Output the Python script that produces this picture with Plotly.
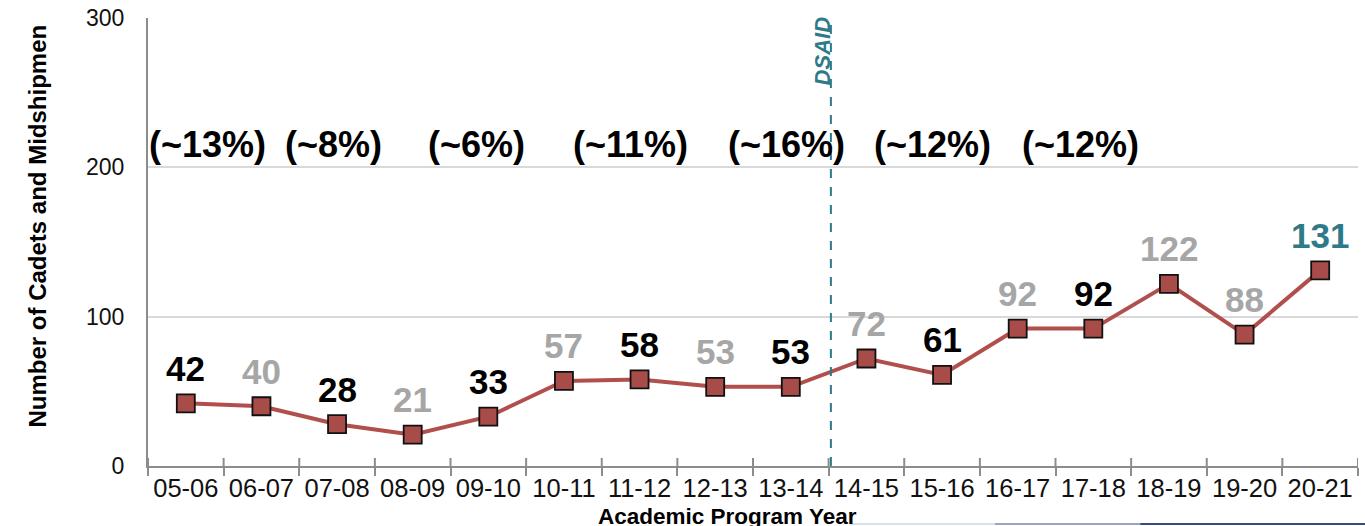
import plotly.graph_objects as go

years = ["05-06", "06-07", "07-08", "08-09", "09-10", "10-11", "11-12", "12-13",
         "13-14", "14-15", "15-16", "16-17", "17-18", "18-19", "19-20", "20-21"]
counts = [42, 40, 28, 21, 33, 57, 58, 53, 53, 72, 61, 92, 92, 122, 88, 131]
label_kind = ["dark", "light", "dark", "light", "dark", "light", "dark", "light",
              "dark", "light", "dark", "light", "dark", "light", "light", "accent"]
pct_labels = ["(~13%)", "(~8%)", "(~6%)", "(~11%)", "(~16%)", "(~12%)", "(~12%)"]
pct_x = [0.29, 1.95, 3.84, 5.88, 7.94, 9.88, 11.83]
pct_y = 215.5
dsaid_x = 8.53
y_ticks = [0, 100, 200, 300]

kind_color = {"dark": "#000000", "light": "#A6A6A6", "accent": "#2F7A88"}
TEAL = "#2F7A88"
AXIS = "#8C8C8C"
FONT = "Liberation Sans, Arial, sans-serif"

idx = list(range(len(years)))

fig = go.Figure()
fig.add_trace(go.Scatter(
    x=idx, y=counts, mode="lines+markers",
    line=dict(color="#B04F4B", width=4),
    marker=dict(symbol="square", size=18, color="#A84C49",
                line=dict(color="#111111", width=1.8)),
    hoverinfo="skip", showlegend=False,
))

annotations = []
for i, v, k in zip(idx, counts, label_kind):
    annotations.append(dict(
        x=i, y=v, xref="x", yref="y", text=f"<b>{v}</b>", showarrow=False,
        yshift=35, font=dict(family=FONT, size=35, color=kind_color[k]),
    ))
for t, px in zip(pct_labels, pct_x):
    annotations.append(dict(
        x=px, y=pct_y, xref="x", yref="y", text=f"<b>{t}</b>", showarrow=False,
        font=dict(family=FONT, size=36, color="#000000"),
    ))
annotations.append(dict(
    x=dsaid_x, y=300, xref="x", yref="y", text="<b><i>DSAID</i></b>", showarrow=False,
    textangle=-90, xanchor="center", yanchor="top", xshift=-8, yshift=4,
    font=dict(family=FONT, size=22, color=TEAL),
))
annotations.append(dict(
    x=-0.104, y=0.536, xref="paper", yref="paper",
    text="<b>Number of Cadets and Midshipmen</b>", showarrow=False, textangle=-90,
    font=dict(family=FONT, size=24, color="#000000"),
))
annotations.append(dict(
    x=0.479, y=0, xref="paper", yref="paper", yanchor="top", yshift=-37,
    text="<b>Academic Program Year</b>", showarrow=False, borderpad=0,
    font=dict(family=FONT, size=22.5, color="#000000"),
))

shapes = [
    dict(type="line", xref="x", yref="y", x0=dsaid_x, x1=dsaid_x, y0=0, y1=300,
         line=dict(color=TEAL, width=2, dash="dash"), layer="above"),
]
# upward half of the crossing tick marks at category boundaries
for b in range(len(years) + 1):
    shapes.append(dict(type="line", xref="x", yref="y", ysizemode="pixel", yanchor=0,
                       x0=b - 0.5, x1=b - 0.5, y0=0, y1=8,
                       line=dict(color=AXIS, width=2)))
# thin decorative rule at bottom right
seg = [(0.58, 0.70, 0.15), (0.70, 0.82, 0.45), (0.82, 1.02, 0.9)]
for a, b, op in seg:
    shapes.append(dict(type="line", xref="paper", yref="paper", x0=a, x1=b,
                       y0=-0.1295, y1=-0.1295, opacity=op,
                       line=dict(color="#1F3A78", width=2)))

fig.update_layout(
    width=1365, height=526,
    margin=dict(l=148, r=7, t=18, b=60, autoexpand=False),
    paper_bgcolor="white", plot_bgcolor="white",
    font=dict(family=FONT, color="#1a1a1a"),
    xaxis=dict(
        type="category", categoryorder="array", categoryarray=idx,
        tickmode="array", tickvals=idx, ticktext=years, tickangle=0,
        range=[-0.5, len(years) - 0.5], automargin=False,
        tickson="boundaries", ticks="outside", ticklen=8, tickwidth=2,
        ticklabelstandoff=-2,
        tickcolor=AXIS, showline=True, linecolor=AXIS, linewidth=2,
        showgrid=False, tickfont=dict(family=FONT, size=25.5, color="#111111"),
        zeroline=False,
    ),
    yaxis=dict(
        range=[0, 300], tickmode="array", tickvals=y_ticks, automargin=False,
        showgrid=True, gridcolor="#D9D9D9", gridwidth=1.5,
        showline=True, linecolor=AXIS, linewidth=2,
        ticks="", ticklabelstandoff=17, zeroline=False,
        tickfont=dict(family=FONT, size=23, color="#111111"),
    ),
    annotations=annotations, shapes=shapes,
)

fig.write_html("out.html")
